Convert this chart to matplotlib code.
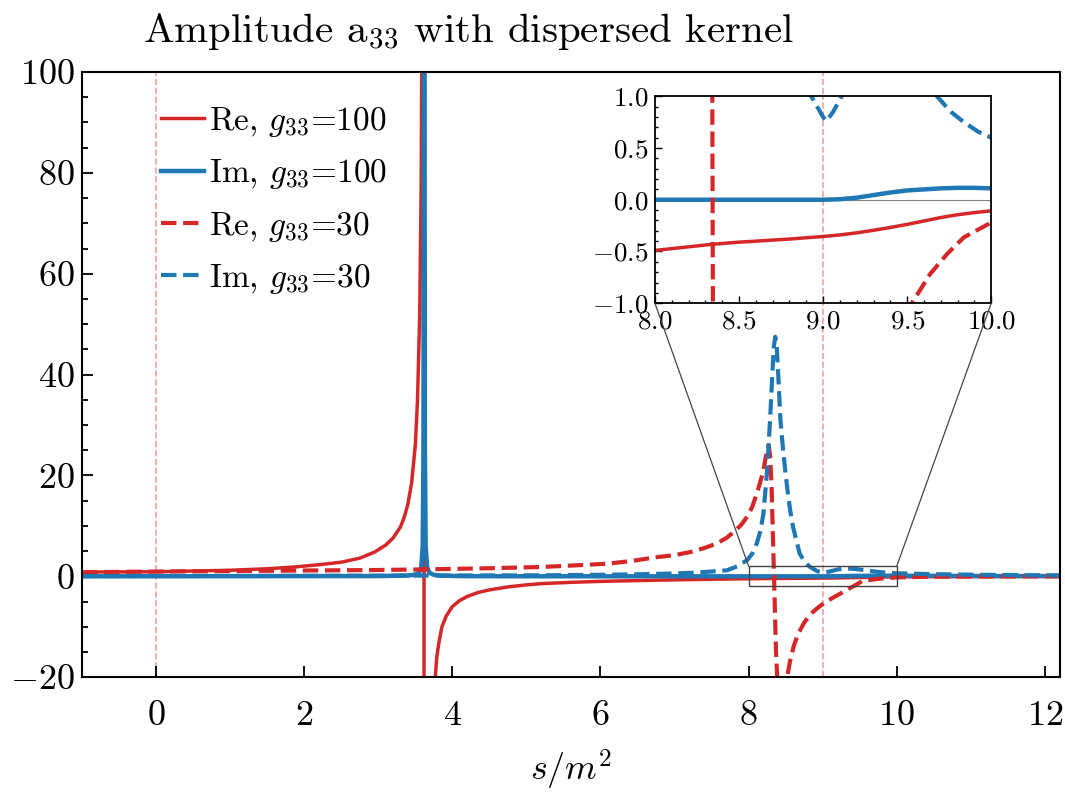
import matplotlib
matplotlib.use("Agg")
import matplotlib.pyplot as plt
from matplotlib.patches import Rectangle, ConnectionPatch
from matplotlib.ticker import MultipleLocator, FormatStrFormatter

plt.rcParams.update({
    'font.family': 'serif',
    'font.serif': ['cmr10', 'DejaVu Serif'],
    'mathtext.fontset': 'cm',
    'axes.formatter.use_mathtext': True,
    'axes.unicode_minus': True,
})

# ---------------- data ----------------
re100_x = [-1.0, 0.0, 1.0, 1.5, 1.87, 2.2, 2.5, 2.75, 2.95, 3.1, 3.2, 3.3, 3.35, 3.40, 3.45,
           3.50, 3.53, 3.56, 3.58, 3.595, 3.61, 3.625, 3.70, 3.75, 3.77, 3.79, 3.82, 3.86,
           3.92, 4.0, 4.1, 4.2, 4.35, 4.5, 4.75, 5.0, 5.2, 5.6, 6.0, 6.5, 7.0, 7.5, 8.0, 8.343,
           8.5, 8.8, 9.0, 9.1, 9.2, 9.3, 9.4, 9.5, 9.6, 9.7, 9.8, 9.9, 10.0, 10.5, 11.0, 12.2]
re100_y = [0.85, 0.9, 1.2, 1.5, 1.85, 2.3, 2.8, 3.6, 4.8, 6.2, 7.6, 9.8, 11.7, 14.3, 18.5,
           26.0, 35.0, 52.0, 79.0, 126.0, 315.0, -300.0, -45.0, -27.0, -20.0, -16.0, -13.0, -10.0,
           -7.8, -6.0, -4.8, -4.0, -3.2, -2.7, -2.1, -1.7, -1.45, -1.2, -1.0, -0.85, -0.7, -0.58,
           -0.49, -0.43, -0.41, -0.38, -0.355, -0.34, -0.32, -0.295, -0.268, -0.238, -0.205,
           -0.172, -0.145, -0.124, -0.107, -0.07, -0.05, -0.02]

im100_x = [-1.0, 3.0, 3.4, 3.5, 3.55, 3.58, 3.60, 3.61, 3.62, 3.63, 3.64, 3.66, 3.69, 3.75,
           3.85, 4.2, 5.0, 6.0, 9.0, 9.1, 9.2, 9.3, 9.4, 9.5, 9.6, 9.7, 9.8, 9.9, 10.0, 10.5,
           11.0, 12.2]
im100_y = [0.0, 0.05, 0.15, 0.35, 0.7, 1.8, 6.0, 25.0, 160.0, 25.0, 6.0, 1.8, 0.7, 0.3,
           0.12, 0.03, 0.01, 0.0, 0.0, 0.005, 0.02, 0.045, 0.07, 0.09, 0.10, 0.11, 0.115,
           0.115, 0.11, 0.09, 0.07, 0.05]

re30_x = [-1.0, 0.0, 1.0, 2.0, 3.0, 3.5, 4.5, 5.2, 5.7, 6.09, 6.4, 6.76, 7.0, 7.21, 7.4, 7.57,
          7.7, 7.8, 7.9, 7.98, 8.05, 8.11, 8.16, 8.20, 8.23, 8.25, 8.27, 8.29, 8.31, 8.343,
          8.37, 8.40, 8.43, 8.47, 8.52, 8.56, 8.61, 8.67, 8.75, 8.83, 8.92, 9.01, 9.12, 9.23,
          9.35, 9.46, 9.528, 9.637, 9.737, 9.837, 10.0, 10.3, 10.6, 11.0, 11.5, 12.2]
re30_y = [0.8, 0.95, 1.05, 1.15, 1.25, 1.35, 1.6, 1.85, 2.2, 2.5, 3.0, 3.8, 4.2, 4.8, 5.6, 6.5,
          7.6, 8.8, 10.2, 11.8, 13.8, 16.4, 18.8, 21.0, 23.5, 25.0, 26.0, 24.0, 18.0, 0.0,
          -15.0, -24.0, -27.0, -25.0, -20.0, -16.8, -13.8, -11.4, -9.2, -7.6, -6.4, -5.4, -4.4,
          -3.5, -2.5, -1.6, -1.0, -0.717, -0.525, -0.364, -0.22, -0.12, -0.07, -0.04, -0.02,
          -0.01]

im30_x = [-1.0, 2.0, 4.0, 5.2, 6.0, 6.5, 7.0, 7.3, 7.5, 7.71, 7.85, 7.98, 8.05, 8.11, 8.16,
          8.20, 8.25, 8.29, 8.32, 8.34, 8.36, 8.38, 8.40, 8.43, 8.47, 8.52, 8.56, 8.60, 8.65,
          8.69, 8.76, 8.83, 8.93, 9.0, 9.02, 9.06, 9.11, 9.2, 9.3, 9.4, 9.5, 9.59, 9.677, 9.76,
          9.837, 9.92, 10.0, 10.5, 11.0, 11.5, 12.2]
im30_y = [0.05, 0.1, 0.15, 0.2, 0.3, 0.4, 0.55, 0.75, 0.95, 1.2, 2.0, 3.2, 4.5, 6.5, 9.0,
          12.4, 21.0, 31.0, 40.0, 45.5, 47.5, 45.5, 40.0, 31.0, 24.3, 17.7, 13.2, 9.8, 6.8,
          4.5, 2.8, 1.85, 1.0, 0.8, 0.76, 0.85, 1.0, 1.35, 1.55, 1.5, 1.35, 1.18, 1.0, 0.85,
          0.75, 0.66, 0.6, 0.42, 0.32, 0.25, 0.2]

labels = [r"Re, $g_{33}$=100", r"Im, $g_{33}$=100", r"Re, $g_{33}$=30", r"Im, $g_{33}$=30"]
thresholds = [0.0, 9.0]
xlim_main = (-1.0, 12.2)
ylim_main = (-20.0, 100.0)
zoom_x = (8.0, 10.0)
zoom_y = (-1.0, 1.0)
box_y = (-2.0, 2.0)

RED = '#d62728'
BLUE = '#1f77b4'
THR = '#f3a0a0'

series = [
    (re100_x, re100_y, RED, '-', 2.5),
    (im100_x, im100_y, BLUE, '-', 3.2),
    (re30_x, re30_y, RED, '--', 3.0),
    (im30_x, im30_y, BLUE, '--', 3.0),
]

fig = plt.figure(figsize=(10.65, 7.92), dpi=100)
ax = fig.add_axes([0.077, 0.145, 0.918, 0.764])

for t in thresholds:
    ax.axvline(t, color=THR, ls='--', lw=1.2, zorder=0)
for (x, y, c, ls, lw), lab in zip(series, labels):
    ax.plot(x, y, color=c, ls=ls, lw=lw, label=lab)

ax.set_xlim(*xlim_main)
ax.set_ylim(*ylim_main)
ax.xaxis.set_major_locator(MultipleLocator(2))
ax.yaxis.set_major_locator(MultipleLocator(20))
ax.yaxis.set_minor_locator(MultipleLocator(5))
ax.tick_params(which='both', direction='in', labelsize=26, width=1.3)
ax.tick_params(which='major', length=8)
ax.tick_params(axis='x', which='major', pad=17)
ax.tick_params(axis='y', which='major', pad=5)
ax.tick_params(which='minor', length=4)
for s in ax.spines.values():
    s.set_linewidth(1.5)
ax.set_xlabel(r"$s/m^2$", fontsize=26, labelpad=11)

leg = ax.legend(loc='upper left', bbox_to_anchor=(0.05, 0.995), frameon=False,
                fontsize=24, handlelength=1.3, handletextpad=0.15, labelspacing=0.55)

fig.text(0.44, 0.947, r"Amplitude $\mathrm{a}_{33}$ with dispersed kernel",
         fontsize=29.5, ha='center', va='baseline')

# ---------------- inset ----------------
axins = ax.inset_axes([0.586, 0.618, 0.344, 0.342])
axins.axhline(0.0, color='gray', lw=0.8, zorder=0)
axins.axvline(thresholds[1], color=THR, ls='--', lw=1.2, zorder=0)
for (x, y, c, ls, lw) in series:
    axins.plot(x, y, color=c, ls=ls, lw=lw)
axins.set_xlim(*zoom_x)
axins.set_ylim(*zoom_y)
axins.xaxis.set_major_locator(MultipleLocator(0.5))
axins.xaxis.set_minor_locator(MultipleLocator(0.1))
axins.yaxis.set_major_locator(MultipleLocator(0.5))
axins.yaxis.set_minor_locator(MultipleLocator(0.1))
axins.tick_params(which='both', direction='in', labelsize=19.5, width=1.0)
axins.tick_params(which='major', length=5, pad=5)
axins.tick_params(which='minor', length=2.5)
for s in axins.spines.values():
    s.set_linewidth(1.3)
axins.xaxis.set_major_formatter(FormatStrFormatter(r'$%.1f$'))
axins.yaxis.set_major_formatter(FormatStrFormatter(r'$%.1f$'))

ax.add_patch(Rectangle((zoom_x[0], box_y[0]), zoom_x[1] - zoom_x[0], box_y[1] - box_y[0],
                       fill=False, ec='#444444', lw=1.0, zorder=5))
for xa, xb in [(0, zoom_x[0]), (1, zoom_x[1])]:
    cp = ConnectionPatch(xyA=(xa, 0), coordsA=axins.transAxes,
                         xyB=(xb, box_y[1]), coordsB=ax.transData,
                         color='#444444', lw=0.9)
    fig.add_artist(cp)

fig.savefig("out.png", dpi=100)
